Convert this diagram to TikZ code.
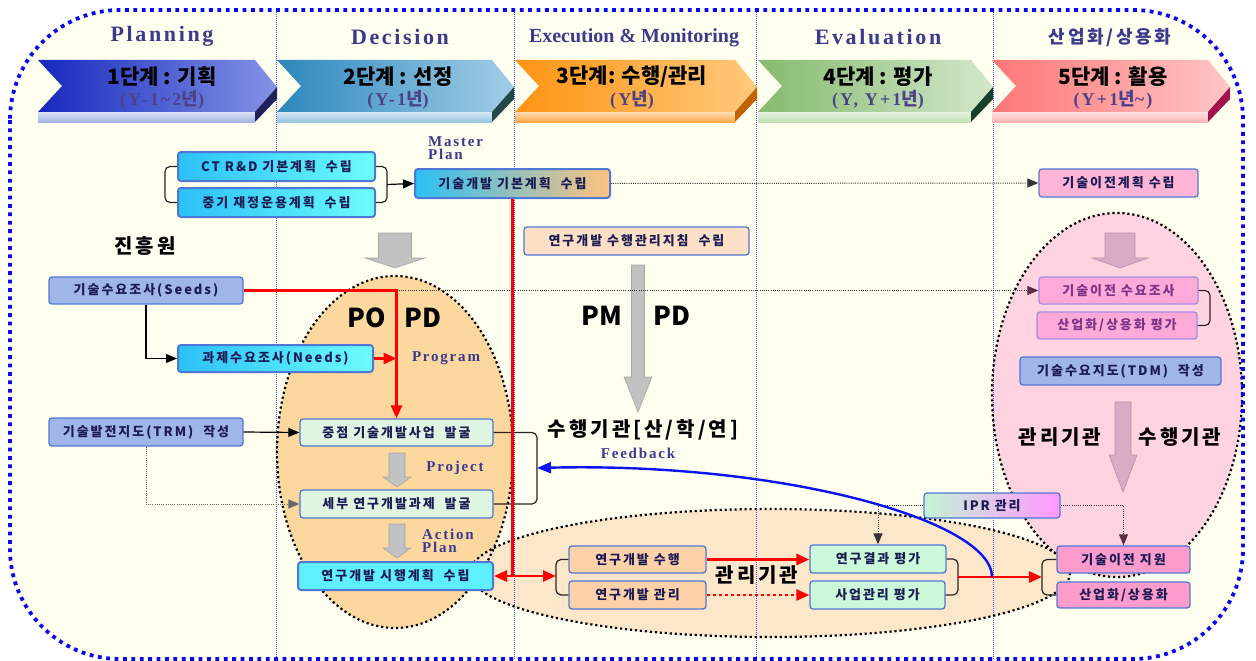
\documentclass[tikz,border=0pt]{standalone}
\usepackage{fontspec}
\setmainfont{Noto Sans CJK KR}
\newfontfamily\boxfont[LetterSpace=15]{Noto Sans CJK KR}
\newfontfamily\engspfont[LetterSpace=12]{Liberation Serif}
\newfontfamily\engfont{Liberation Serif}
\usepackage{xcolor}
\usetikzlibrary{arrows.meta,positioning}

\definecolor{bgyellow}{HTML}{FFFFF0}
\definecolor{frameblue}{HTML}{0808F0}
\definecolor{colblue}{HTML}{4A4AF2}
\definecolor{labpurple}{HTML}{3A3A8E}
\definecolor{yearpurple}{HTML}{4C4288}
\definecolor{boxline}{HTML}{4F78D6}
\definecolor{boxtext}{HTML}{1C1C55}
\definecolor{cyanA}{HTML}{2CC0F6}
\definecolor{cyanB}{HTML}{6CFCFF}
\definecolor{cyanC}{HTML}{5EF0FF}
\definecolor{masterR}{HTML}{FFC27E}
\definecolor{periw}{HTML}{A0B5E8}
\definecolor{mintfill}{HTML}{E0F4E2}
\definecolor{peachfill}{HTML}{FDD2A8}
\definecolor{guidefill}{HTML}{FDE1C6}
\definecolor{greenfill}{HTML}{CCF9DA}
\definecolor{pinkfill}{HTML}{FFB5D6}
\definecolor{lilacfill}{HTML}{FFAAD8}
\definecolor{lilacline}{HTML}{A08EE6}
\definecolor{lilactext}{HTML}{7A3488}
\definecolor{rosefill}{HTML}{FF9CCC}
\definecolor{iprA}{HTML}{C4F4D4}
\definecolor{iprB}{HTML}{FF98FF}
\definecolor{orangeell}{HTML}{FCD89E}
\definecolor{peachell}{HTML}{FDE7CB}
\definecolor{pinkell}{HTML}{FFD3DF}
\definecolor{grayarr}{HTML}{C2C2C2}
\definecolor{pinkarr}{HTML}{D9ABC4}
\definecolor{tipmaroon}{HTML}{5C2E46}
\definecolor{fbblue}{HTML}{0A14F0}
\definecolor{bnA}{HTML}{1628BE}\definecolor{bnAr}{HTML}{8494E6}\definecolor{bnAs}{HTML}{A4B6E4}\definecolor{bnAv}{HTML}{20205C}
\definecolor{bnB}{HTML}{2C88BE}\definecolor{bnBr}{HTML}{A2CEE6}\definecolor{bnBs}{HTML}{98C6E2}\definecolor{bnBv}{HTML}{224848}
\definecolor{bnC}{HTML}{FF9412}\definecolor{bnCr}{HTML}{FFC97C}\definecolor{bnCs}{HTML}{FFA848}\definecolor{bnCv}{HTML}{C26200}
\definecolor{bnD}{HTML}{86BA6E}\definecolor{bnDr}{HTML}{D2E8CA}\definecolor{bnDs}{HTML}{C2E0B2}\definecolor{bnDv}{HTML}{16402A}
\definecolor{bnE}{HTML}{FF7676}\definecolor{bnEr}{HTML}{FFC6C6}\definecolor{bnEs}{HTML}{FFB2B2}\definecolor{bnEv}{HTML}{A2104E}

\begin{document}
\begin{tikzpicture}[x=1pt,y=-1pt]
  \tikzset{box/.style = {shape=rectangle, rounded corners=3pt, draw=boxline, line width=1.3pt, minimum height=28pt, inner sep=1pt, text=boxtext, font=\boxfont\bfseries\fontsize{13}{15}\selectfont}}
  \tikzset{cyanbox/.style = {box, line width=2pt, left color=cyanA, right color=cyanB}}
  \tikzset{actbox/.style = {box, line width=2pt, fill=cyanC}}
  \tikzset{masterbox/.style = {box, line width=2pt, left color=cyanA, right color=masterR}}
  \tikzset{periwbox/.style = {box, fill=periw}}
  \tikzset{mintbox/.style = {box, fill=mintfill}}
  \tikzset{peachbox/.style = {box, fill=peachfill}}
  \tikzset{guidebox/.style = {box, fill=guidefill}}
  \tikzset{greenbox/.style = {box, fill=greenfill}}
  \tikzset{pinkbox/.style = {box, fill=pinkfill}}
  \tikzset{lilacbox/.style = {box, fill=lilacfill, draw=lilacline, text=lilactext}}
  \tikzset{rosebox/.style = {box, fill=rosefill}}
  \tikzset{iprbox/.style = {box, left color=iprA, right color=iprB, minimum height=25pt}}
  \tikzset{phase/.style = {font=\engspfont\bfseries\fontsize{22}{24}\selectfont, text=labpurple}}
  \tikzset{yearlbl/.style = {font=\engspfont\bfseries\fontsize{18}{20}\selectfont, text=yearpurple}}
  \tikzset{stagelbl/.style = {font=\bfseries\fontsize{21}{23}\selectfont}}
  \tikzset{flowlbl/.style = {font=\engspfont\bfseries\fontsize{15}{13}\selectfont, text=labpurple, inner sep=0pt}}
  \tikzset{biglbl/.style = {font=\boxfont\bfseries\fontsize{20}{22}\selectfont}}
  \tikzset{rolelbl/.style = {font=\bfseries\fontsize{26}{28}\selectfont}}
  \tikzset{ellborder/.style = {draw=black, line width=2.2pt, dash pattern=on 2.2pt off 2.8pt}}
  \tikzset{colsep/.style = {draw=colblue, line width=0.8pt, dash pattern=on 1pt off 1pt}}
  \tikzset{bracket/.style = {draw=black!85, line width=1.2pt, rounded corners=5pt}}
  \tikzset{blackedge/.style = {-tipB, draw=black, line width=1.2pt}}
  \tikzset{redln/.style = {draw=red, line width=2.8pt}}
  \tikzset{dotln/.style = {draw=black!80, line width=1pt, dash pattern=on 1pt off 1.2pt}}
  \tikzset{%
  tipB/.tip={Triangle[length=11pt,width=9pt]},
  tipM/.tip={Triangle[length=11pt,width=9pt,color=tipmaroon]},
  tipR/.tip={Triangle[length=13pt,width=11pt,color=red]},
  tipU/.tip={Triangle[length=14pt,width=11pt,color=fbblue]},
}

  \fill[white] (0,0) rectangle (1256,661);
  \useasboundingbox (0,0) rectangle (1256,661);
  \fill[bgyellow, rounded corners=110pt] (10,10) rectangle (1243,659);

  % ellipses
  \fill[pinkell] (1117,395) ellipse [x radius=125, y radius=182];
  \fill[orangeell] (395,452) ellipse [x radius=118, y radius=176];
  \fill[peachell] (770,573) ellipse [x radius=300, y radius=64];

  \foreach \cx in {276,514,756,993}
    \draw[colsep] (\cx,10) -- (\cx,659);

  \draw[ellborder] (1117,395) ellipse [x radius=125, y radius=182];
  \draw[ellborder] (395,452) ellipse [x radius=118, y radius=176];
  \draw[ellborder] (770,573) ellipse [x radius=300, y radius=64];

  \draw[draw=frameblue, line width=3.8pt, dash pattern=on 3.8pt off 4.6pt, rounded corners=110pt] (10,10) rectangle (1243,659);

  % stage banners
  \foreach \xl/\xr/\ca/\cb/\cs/\cv in {38/277/bnA/bnAr/bnAs/bnAv, 277/514/bnB/bnBr/bnBs/bnBv, 515/757/bnC/bnCr/bnCs/bnCv, 758/993/bnD/bnDr/bnDs/bnDv, 992/1230/bnE/bnEr/bnEs/bnEv} {
    \shade[left color=\ca, right color=\cb] (\xl,60) -- (\xr-22,60) -- (\xr,87) -- (\xr-22,112) -- (\xl,112) -- (\xl+24,86) -- cycle;
    \shade[top color=\cs!40!white, bottom color=\cs] (\xl,112) rectangle (\xr-22,122);
    \fill[\cv] (\xr-22,112) -- (\xr,87) -- (\xr,99) -- (\xr-22,122) -- cycle;
  }

  \node[phase] (ph1) at (162,36) {Planning};
  \node[phase] (ph2) at (400,37) {Decision};
  \node[phase, font=\engfont\bfseries\fontsize{20}{22}\selectfont] (ph3) at (634,38) {Execution \& Monitoring};
  \node[phase] (ph4) at (878,37) {Evaluation};
  \node[text=labpurple, font=\boxfont\bfseries\fontsize{18}{20}\selectfont] (ph5) at (1110,38) {산업화/상용화};

  \node[stagelbl] (st1) at (162,77) {1단계 : 기획};
  \node[stagelbl] (st2) at (398,77) {2단계 : 선정};
  \node[stagelbl] (st3) at (632,77) {3단계: 수행/관리};
  \node[stagelbl] (st4) at (878,77) {4단계 : 평가};
  \node[stagelbl] (st5) at (1113,77) {5단계 : 활용};
  \node[yearlbl] (yr1) at (162,100) {(Y-1\textasciitilde 2{\boxfont 년})};
  \node[yearlbl] (yr2) at (398,100) {(Y-1{\boxfont 년})};
  \node[yearlbl] (yr3) at (632,100) {(Y{\boxfont 년})};
  \node[yearlbl] (yr4) at (878,100) {(Y, Y+1{\boxfont 년})};
  \node[yearlbl] (yr5) at (1113,100) {(Y+1{\boxfont 년}\textasciitilde)};

  % block arrows
  \foreach \ax/\ayt/\asw/\ayh/\ahw/\ayp/\acl in {395/233/16.5/258/30/268/grayarr, 638/265/6.5/377/14/412/grayarr, 397/453/8/477/14/487/grayarr, 397/524/8/548/14/558/grayarr, 1120/233/15/258/28/268/pinkarr, 1123/402/8/455/14/492/pinkarr}
    \filldraw[fill=\acl, draw=\acl!85!black, line width=0.6pt] (\ax-\asw,\ayt) -- (\ax+\asw,\ayt) -- (\ax+\asw,\ayh) -- (\ax+\ahw,\ayh) -- (\ax,\ayp) -- (\ax-\ahw,\ayh) -- (\ax-\asw,\ayh) -- cycle;

  % boxes
  \node[cyanbox, minimum width=197pt, minimum height=29pt] (ctrd) at (276.5,166.5) {CT R\&D 기본계획~ 수립};
  \node[cyanbox, minimum width=197pt, minimum height=29pt] (midterm) at (276.5,202.5) {중기 재정운용계획~ 수립};
  \node[masterbox, minimum width=195pt, minimum height=29pt] (master) at (512.5,183.5) {기술개발 기본계획~ 수립};
  \node[pinkbox, minimum width=159pt] (tplan) at (1118.5,183) {기술이전계획 수립};
  \node[periwbox, minimum width=194pt, minimum height=27pt] (seeds) at (146,290.5) {기술수요조사(Seeds)};
  \node[cyanbox, minimum width=195pt, minimum height=27pt] (needs) at (275.5,358.5) {과제수요조사(Needs)};
  \node[guidebox, minimum width=225pt] (guide) at (636.5,241) {연구개발 수행관리지침~ 수립};
  \node[periwbox, minimum width=194pt] (trm) at (146,432) {기술발전지도(TRM)~ 작성};
  \node[mintbox, minimum width=193pt, minimum height=27pt] (jungjeom) at (396.5,432.5) {중점 기술개발사업~ 발굴};
  \node[mintbox, minimum width=193pt] (sebu) at (396.5,504) {세부 연구개발과제~ 발굴};
  \node[actbox, minimum width=195pt] (action) at (395.5,576) {연구개발 시행계획~ 수립};
  \node[peachbox, minimum width=137pt, minimum height=27pt] (suhaeng) at (637.5,559.5) {연구개발 수행};
  \node[peachbox, minimum width=137pt] (gwanri) at (637.5,595) {연구개발 관리};
  \node[greenbox, minimum width=136pt] (gyeolgwa) at (878,559) {연구결과 평가};
  \node[greenbox, minimum width=135pt] (saeop) at (877.5,595) {사업관리 평가};
  \node[rosebox, minimum width=133pt, minimum height=27pt] (jiwon) at (1123.5,559.5) {기술이전 지원};
  \node[rosebox, minimum width=133pt, minimum height=26pt] (sangyong) at (1123.5,595) {산업화/상용화};
  \node[iprbox, minimum width=136pt] (ipr) at (992,505.5) {IPR 관리};
  \node[lilacbox, minimum width=159pt, minimum height=27pt] (tdemand) at (1118.5,290.5) {기술이전 수요조사};
  \node[lilacbox, minimum width=160pt, minimum height=27pt] (ucomm) at (1117,325.5) {산업화/상용화 평가};
  \node[periwbox, minimum width=201pt] (tdm) at (1120.5,371) {기술수요지도(TDM)~ 작성};

  % labels
  \node[biglbl] (jhw) at (145,246) {진흥원};
  \node[biglbl] (shgg) at (643,430) {수행기관[산/학/연]};
  \node[biglbl] (gglbl) at (757,575) {관리기관};
  \node[biglbl] (gglbl2) at (1060,437) {관리기관};
  \node[biglbl] (shlbl2) at (1180,437) {수행기관};
  \node[rolelbl] (po) at (367,318) {PO};
  \node[rolelbl] (pda) at (423,318) {PD};
  \node[rolelbl] (pm) at (602,316) {PM};
  \node[rolelbl] (pdb) at (672,316) {PD};
  \node[flowlbl, anchor=west, align=left] (mplan) at (428,148) {Master\\Plan};
  \node[flowlbl] (prog) at (446,358) {Program};
  \node[flowlbl] (proj) at (455,468) {Project};
  \node[flowlbl, anchor=west, align=left] (aplan) at (422,541) {Action\\Plan};
  \node[flowlbl] (fdbk) at (638,453) {Feedback};

  % junction points
  \coordinate (ctL) at (165,184.5);
  \coordinate (ctR) at (387,184.5);
  \coordinate (fbR) at (537,468);
  \coordinate (brL) at (556,576);
  \coordinate (evR) at (958,577);
  \coordinate (utL) at (1042,577);
  \coordinate (fbS) at (992,577);
  \coordinate (tdR) at (1210,308);

  % brackets
  \draw[bracket] (ctrd.west) -| (ctL) |- (midterm.west);
  \draw[bracket] (ctrd.east) -| (ctR) |- (midterm.east);
  \draw[bracket] (jungjeom.east) -| (fbR) |- (sebu.east);
  \draw[bracket] (suhaeng.west) -| (brL) |- (gwanri.west);
  \draw[bracket] (gyeolgwa.east) -| (evR) |- (saeop.east);
  \draw[bracket] (jiwon.west) -| (utL) |- (sangyong.west);
  \draw[bracket] (tdemand.east) -| (tdR) |- (ucomm.east);

  % black and dotted flows
  \draw[blackedge] (ctR) -- (master.west);
  \draw[dotln, -tipB] (master.east) -- (tplan.west);
  \draw[dotln, -tipM] (seeds.east -| jungjeom.north) -- (tdemand.west);
  \draw[blackedge] (seeds.south) |- (needs.west);
  \draw[blackedge] (trm.east) -- (jungjeom.west);
  \draw[dotln, draw=black!60, -tipB] (trm.south) |- (sebu.west);
  \draw[dotln, -tipB] (ipr.west) -| (gyeolgwa.north);
  \draw[dotln, -tipM] (ipr.east) -| (jiwon.north);

  % red flows
  \draw[redln, -tipR] (seeds.east) -| (jungjeom.north);
  \draw[redln, -tipR] (needs.east) -- (needs.east -| jungjeom.north);
  \draw[redln] (master.south) -- (master.south |- action.east);
  \draw[redln, tipR-tipR] (action.east) -- (brL);
  \draw[redln, -tipR] (suhaeng.east) -- (suhaeng.east -| gyeolgwa.west);
  \draw[redln, line width=2.5pt, dash pattern=on 3pt off 3pt, -tipR] (gwanri.east) -- (saeop.west);
  \draw[redln, -tipR] (evR) -- (utL);

  % feedback
  \draw[draw=fbblue, line width=2.4pt, -tipU] (fbS) .. controls (992,520) and (780,462) .. (fbR);
\end{tikzpicture}
\end{document}
